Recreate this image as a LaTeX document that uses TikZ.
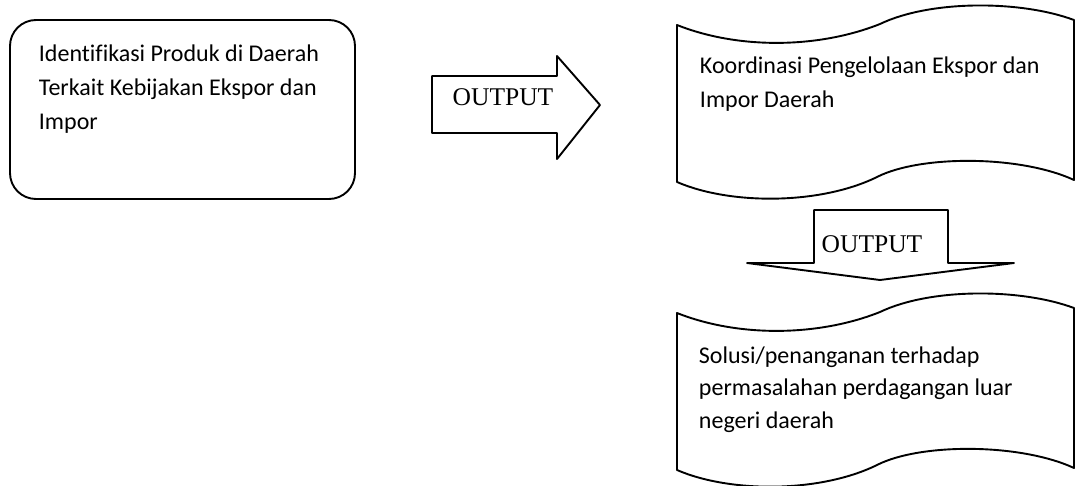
\documentclass[tikz,border=0pt]{standalone}
\usepackage{fontspec}
\setmainfont{Carlito}[Ligatures=NoCommon]
\newfontfamily\outfont{Liberation Serif}
\begin{document}
\begin{tikzpicture}[x=1pt,y=-1pt,line width=1.9pt,line join=round,
    boxtext/.style={anchor=base west,align=left,inner sep=0pt,font=\fontsize{24}{34}\selectfont},
    arrowtext/.style={anchor=base,inner sep=0pt,font=\outfont\fontsize{25.5}{30}\selectfont}]
  \useasboundingbox (0,0) rectangle (1076,486);

  % Left rounded box
  \draw[rounded corners=26pt] (10,20) rectangle (355,199);
  % (base anchor = baseline of the last line)
  \node[boxtext] (ident) at (38,130) {Identifikasi Produk di Daerah\\Terkait Kebijakan Ekspor dan\\Impor};

  % Block arrow to the right
  \draw (432,76) -- (557,76) -- (557,56) -- (600,105) -- (557,159) -- (557,133) -- (432,133) -- cycle;
  \node[arrowtext] (out1) at (503,106) {OUTPUT};

  % Wavy boxes (same outline, second one shifted down)
  \foreach \dy in {0,288}
    \draw[shift={(0,\dy)}] (677,25) .. controls (740,50) and (820,48) .. (880,24)
      .. controls (930,0) and (1020,0) .. (1074,20) -- (1074,180)
      .. controls (1020,155) and (920,155) .. (877,177)
      .. controls (820,205) and (730,205) .. (677,182) -- cycle;

  \node[boxtext] (koord) at (699,108) {Koordinasi Pengelolaan Ekspor dan\\Impor Daerah};

  % Block arrow downwards
  \draw (814,210) -- (948,210) -- (948,263) -- (1014,263) -- (880,280) -- (747,263) -- (814,263) -- cycle;
  \node[arrowtext] (out2) at (872,252.7) {OUTPUT};

  \node[boxtext, font=\fontsize{24}{32.5}\selectfont] (solusi) at (698,428) {Solusi/penanganan terhadap\\permasalahan perdagangan luar\\negeri daerah};
\end{tikzpicture}
\end{document}
